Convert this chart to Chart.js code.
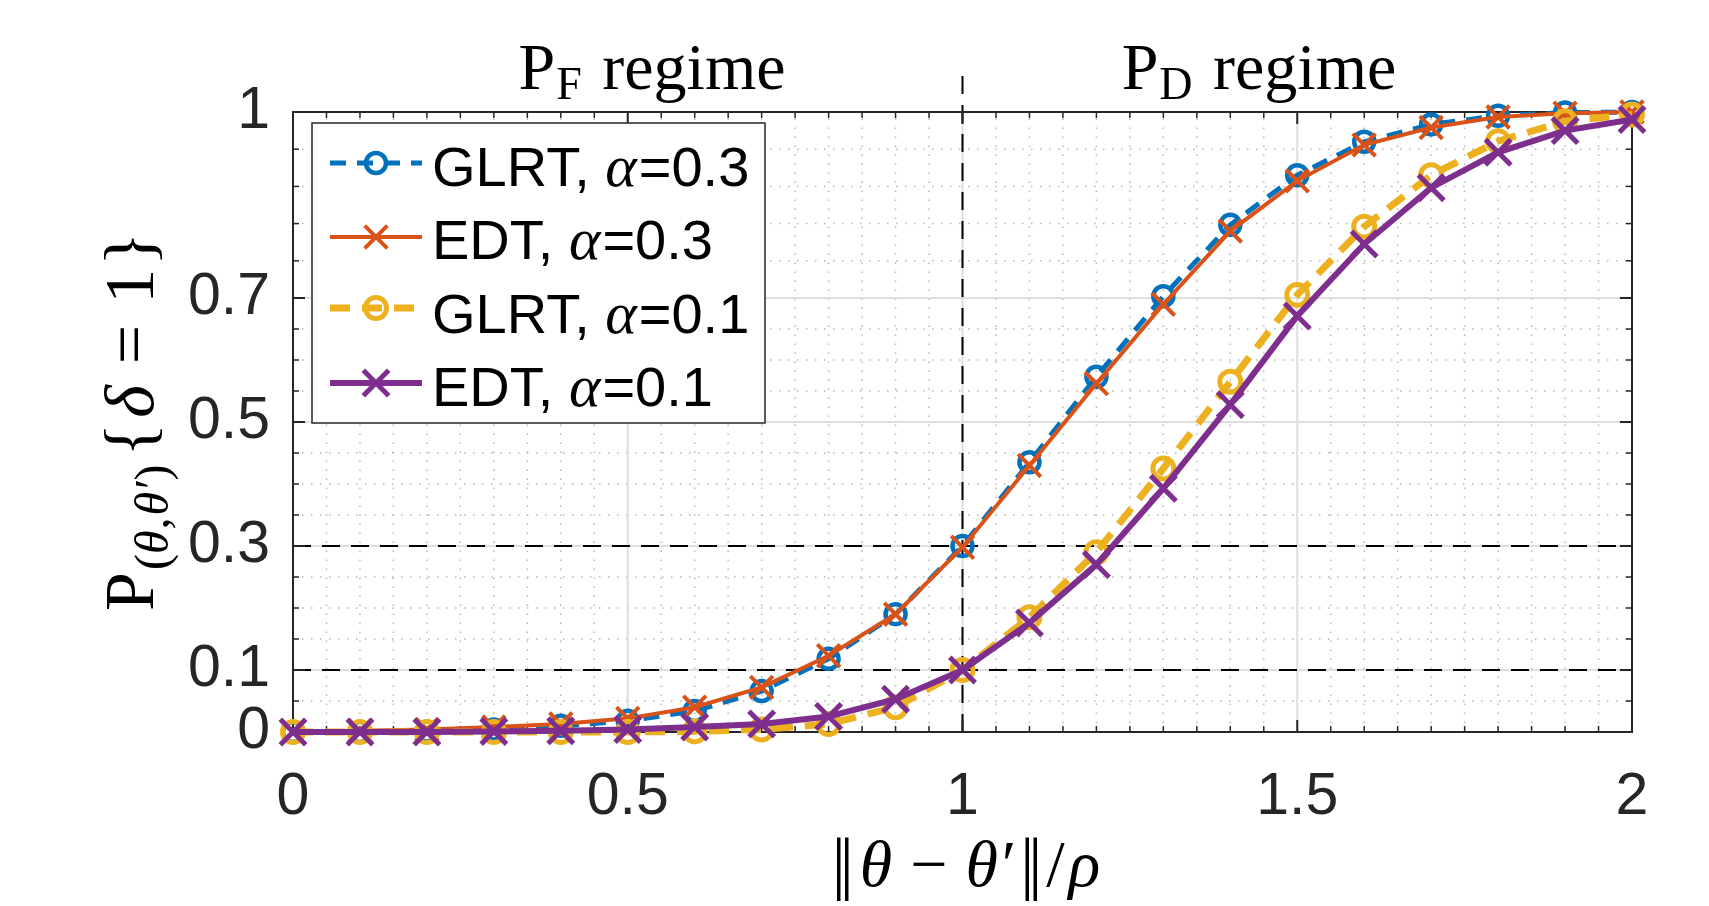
<!DOCTYPE html>
<html>
<head>
<meta charset="utf-8">
<script src="https://cdn.jsdelivr.net/npm/chart.js@4.4.0/dist/chart.umd.min.js"></script>
<style>
  html, body { margin: 0; padding: 0; background: #fff; }
  #wrap { width: 1709px; height: 906px; }
</style>
</head>
<body>
<div id="wrap"><canvas id="myChart" width="1709" height="906"></canvas></div>
<script>
// distance ||theta - theta'|| / rho
const distances = [0, 0.1, 0.2, 0.3, 0.4, 0.5, 0.6, 0.7, 0.8, 0.9, 1.0,
                   1.1, 1.2, 1.3, 1.4, 1.5, 1.6, 1.7, 1.8, 1.9, 2.0];

// P{delta = 1}
const glrt03 = [0, 0, 0.001, 0.004, 0.010, 0.018, 0.034, 0.066, 0.118, 0.190, 0.300,
                0.435, 0.573, 0.703, 0.818, 0.898, 0.952, 0.980, 0.994, 0.999, 1.0];
const edt03  = [0, 0.002, 0.004, 0.008, 0.013, 0.022, 0.040, 0.072, 0.123, 0.190, 0.298,
                0.430, 0.562, 0.690, 0.808, 0.889, 0.947, 0.975, 0.992, 0.998, 1.0];
const glrt01 = [0, 0, 0, 0, 0, 0, 0.001, 0.004, 0.013, 0.040, 0.100,
                0.185, 0.290, 0.425, 0.565, 0.705, 0.815, 0.898, 0.953, 0.985, 0.996];
const edt01  = [0, 0, 0, 0.001, 0.002, 0.004, 0.008, 0.013, 0.025, 0.053, 0.100,
                0.176, 0.270, 0.393, 0.528, 0.671, 0.787, 0.878, 0.935, 0.970, 0.988];

const seriesNames = ['GLRT', 'EDT', 'GLRT', 'EDT'];
const seriesAlpha = ['0.3', '0.3', '0.1', '0.1'];

const xTickVals = [0, 0.5, 1, 1.5, 2];
const yTickVals = [0, 0.1, 0.3, 0.5, 0.7, 1];
const xMinor = [0.05, 0.1, 0.15, 0.2, 0.25, 0.3, 0.35, 0.4, 0.45,
                0.55, 0.6, 0.65, 0.7, 0.75, 0.8, 0.85, 0.9, 0.95,
                1.05, 1.1, 1.15, 1.2, 1.25, 1.3, 1.35, 1.4, 1.45,
                1.55, 1.6, 1.65, 1.7, 1.75, 1.8, 1.85, 1.9, 1.95];
const yMinor = [0.05, 0.15, 0.2, 0.25, 0.35, 0.4, 0.45, 0.55, 0.6, 0.65, 0.76, 0.82, 0.88, 0.94];
const refLevels = [0.1, 0.3];
const refDistance = 1;

const SANS = "'Liberation Sans', Arial, Helvetica, sans-serif";
const SERIF = "'Liberation Serif', 'DejaVu Serif', 'Times New Roman', serif";
const INK = '#262626';

function pts(ys) {
    return distances.map((d, i) => ({ x: d, y: ys[i] }));
}

function drawRuns(ctx, runs, x, y) {
    runs.forEach(r => {
        ctx.font = r.font;
        ctx.fillText(r.t, x, y + (r.dy || 0));
        x += ctx.measureText(r.t).width + (r.gap || 0);
    });
    return x;
}
function runsWidth(ctx, runs) {
    let w = 0;
    runs.forEach(r => { ctx.font = r.font; w += ctx.measureText(r.t).width + (r.gap || 0); });
    return w;
}

const decorations = {
    id: 'decorations',
    beforeDatasetsDraw(chart) {
        const { ctx, chartArea: a, scales: { x, y } } = chart;
        ctx.save();
        const seg = (x1, y1, x2, y2) => { ctx.beginPath(); ctx.moveTo(x1, y1); ctx.lineTo(x2, y2); ctx.stroke(); };

        // minor dotted grid
        ctx.strokeStyle = '#b8b8b8';
        ctx.lineWidth = 1.5;
        ctx.setLineDash([1.5, 7.5]);
        xMinor.forEach(v => { const p = x.getPixelForValue(v); seg(p, a.bottom, p, a.top); });
        yMinor.forEach(v => { const p = y.getPixelForValue(v); seg(a.left, p, a.right, p); });

        // major grid
        ctx.setLineDash([]);
        ctx.strokeStyle = '#dedede';
        ctx.lineWidth = 2;
        xTickVals.forEach(v => { const p = x.getPixelForValue(v); seg(p, a.bottom, p, a.top); });
        yTickVals.forEach(v => { const p = y.getPixelForValue(v); seg(a.left, p, a.right, p); });

        // reference lines
        ctx.strokeStyle = '#000';
        ctx.lineWidth = 2;
        ctx.setLineDash([18, 11]);
        refLevels.forEach(v => { const p = y.getPixelForValue(v); seg(a.left, p, a.right, p); });
        const rx = x.getPixelForValue(refDistance);
        seg(rx, a.bottom, rx, 73);

        // box and ticks
        ctx.setLineDash([]);
        ctx.strokeStyle = INK;
        ctx.lineWidth = 2;
        ctx.strokeRect(a.left, a.top, a.width, a.height);
        xTickVals.forEach(v => {
            const p = x.getPixelForValue(v);
            seg(p, a.bottom, p, a.bottom - 12);
            seg(p, a.top, p, a.top + 12);
        });
        yTickVals.forEach(v => {
            const p = y.getPixelForValue(v);
            seg(a.left, p, a.left + 12, p);
            seg(a.right, p, a.right - 12, p);
        });
        ctx.lineWidth = 1.5;
        xMinor.forEach(v => {
            const p = x.getPixelForValue(v);
            seg(p, a.bottom, p, a.bottom - 6);
            seg(p, a.top, p, a.top + 6);
        });
        yMinor.forEach(v => {
            const p = y.getPixelForValue(v);
            seg(a.left, p, a.left + 6, p);
            seg(a.right, p, a.right - 6, p);
        });
        ctx.restore();
    },
    afterDatasetsDraw(chart) {
        const { ctx } = chart;
        ctx.save();
        ctx.fillStyle = '#000';
        ctx.textBaseline = 'alphabetic';

        // regime labels
        const S = '66px ' + SERIF, s = '46px ' + SERIF;
        const pf = [{ t: 'P', font: S, gap: 1 }, { t: 'F', font: s, dy: 10, gap: 4 }, { t: ' regime', font: S }];
        const pd = [{ t: 'P', font: S, gap: 1 }, { t: 'D', font: s, dy: 10, gap: 4 }, { t: ' regime', font: S }];
        drawRuns(ctx, pf, 652 - runsWidth(ctx, pf) / 2, 89);
        drawRuns(ctx, pd, 1259 - runsWidth(ctx, pd) / 2, 89);

        // x axis title
        const X = '66px ' + SERIF, Xi = 'italic 66px ' + SERIF, Xb = '70px ' + SERIF;
        const xt = [
            { t: '|', font: Xb, gap: -6 }, { t: '|', font: Xb, gap: 6 },
            { t: '\u03b8', font: Xi, gap: 18 },
            { t: '\u2212', font: X, gap: 18 }, { t: '\u03b8\u2032', font: Xi, gap: 8 },
            { t: '|', font: Xb, gap: -6 }, { t: '|', font: Xb, gap: 4 },
            { t: '/', font: X, gap: 4 }, { t: '\u03c1', font: Xi }
        ];
        drawRuns(ctx, xt, 966 - runsWidth(ctx, xt) / 2, 886);

        // y axis title (rotated)
        const Y = '70px ' + SERIF, Yi = 'italic 70px ' + SERIF;
        const y2 = '48px ' + SERIF, y2i = 'italic 48px ' + SERIF;
        const yt = [
            { t: 'P', font: Y, gap: 2 },
            { t: '(', font: y2, dy: 15 }, { t: '\u03b8', font: y2i, dy: 15, gap: 1 },
            { t: ',', font: y2, dy: 15, gap: 2 }, { t: '\u03b8\u2032', font: y2i, dy: 15, gap: 1 },
            { t: ')', font: y2, dy: 15, gap: 8 },
            { t: '{', font: Y, gap: 5 }, { t: '\u03b4', font: Yi, gap: 21 },
            { t: '=', font: Y, gap: 21 }, { t: '1', font: Y, gap: 3 }, { t: '}', font: Y }
        ];
        ctx.save();
        ctx.translate(153, 611);
        ctx.rotate(-Math.PI / 2);
        drawRuns(ctx, yt, 0, 0);
        ctx.restore();

        // legend
        const bx = 312, by = 123, bw = 453, bh = 300;
        ctx.fillStyle = '#fff';
        ctx.fillRect(bx, by, bw, bh);
        ctx.strokeStyle = INK;
        ctx.lineWidth = 1.5;
        ctx.strokeRect(bx, by, bw, bh);
        const rowsLine = [163, 237, 308, 383];
        const rowsText = [186, 259, 333, 406];
        const L = '56px ' + SANS, Li = 'italic 60px ' + SERIF;
        chart.data.datasets.forEach((ds, i) => {
            const ly = rowsLine[i];
            ctx.save();
            ctx.strokeStyle = ds.borderColor;
            ctx.lineWidth = ds.borderWidth;
            ctx.setLineDash(ds.borderDash || []);
            ctx.beginPath(); ctx.moveTo(330, ly); ctx.lineTo(422, ly); ctx.stroke();
            ctx.setLineDash([]);
            ctx.strokeStyle = ds.borderColor;
            ctx.fillStyle = 'rgba(0,0,0,0)';
            ctx.lineWidth = ds.pointBorderWidth;
            Chart.helpers.drawPoint(ctx, {
                pointStyle: ds.pointStyle, radius: ds.pointRadius, rotation: 0,
                borderWidth: ds.pointBorderWidth
            }, 376, ly);
            ctx.restore();
            ctx.fillStyle = '#000';
            drawRuns(ctx, [
                { t: seriesNames[i] + ', ', font: L },
                { t: '\u03b1', font: Li, gap: 2 },
                { t: '=' + seriesAlpha[i], font: L }
            ], 432, rowsText[i]);
        });
        ctx.restore();
    }
};

const ctx = document.getElementById('myChart').getContext('2d');
new Chart(ctx, {
    type: 'scatter',
    data: {
        datasets: [{
            label: 'GLRT, \u03b1=0.3',
            data: pts(glrt03),
            borderColor: '#0072BD',
            borderWidth: 5,
            borderDash: [16, 11],
            pointStyle: 'circle',
            pointRadius: 10,
            pointBorderWidth: 4.5,
            pointBackgroundColor: 'rgba(0,0,0,0)',
            order: 3
        }, {
            label: 'EDT, \u03b1=0.3',
            data: pts(edt03),
            borderColor: '#D95319',
            borderWidth: 4,
            pointStyle: 'crossRot',
            pointRadius: 16,
            pointBorderWidth: 4,
            order: 2
        }, {
            label: 'GLRT, \u03b1=0.1',
            data: pts(glrt01),
            borderColor: '#EDB120',
            borderWidth: 7,
            borderDash: [20, 12],
            pointStyle: 'circle',
            pointRadius: 10.5,
            pointBorderWidth: 5,
            pointBackgroundColor: 'rgba(0,0,0,0)',
            order: 1
        }, {
            label: 'EDT, \u03b1=0.1',
            data: pts(edt01),
            borderColor: '#7E2F8E',
            borderWidth: 6,
            pointStyle: 'crossRot',
            pointRadius: 18,
            pointBorderWidth: 5,
            order: 0
        }].map(ds => Object.assign(ds, {
            showLine: true,
            tension: 0,
            clip: false,
            pointBorderColor: ds.borderColor,
            pointHoverRadius: ds.pointRadius
        }))
    },
    options: {
        responsive: false,
        animation: false,
        events: [],
        layout: { padding: { left: 0, top: 112, right: 77, bottom: 0 } },
        plugins: { legend: { display: false }, tooltip: { enabled: false } },
        scales: {
            x: {
                type: 'linear',
                min: 0,
                max: 2,
                afterBuildTicks: (scale) => { scale.ticks = xTickVals.map(v => ({ value: v })); },
                afterFit: (scale) => { scale.height = 174; },
                grid: { display: false, drawTicks: false },
                border: { display: false },
                ticks: {
                    padding: 30,
                    maxRotation: 0,
                    color: INK,
                    font: { family: SANS, size: 59 },
                    callback: (v) => String(v)
                }
            },
            y: {
                type: 'linear',
                min: 0,
                max: 1,
                afterBuildTicks: (scale) => { scale.ticks = yTickVals.map(v => ({ value: v })); },
                afterFit: (scale) => { scale.width = 293; },
                grid: { display: false, drawTicks: false },
                border: { display: false },
                ticks: {
                    padding: 23,
                    color: INK,
                    font: { family: SANS, size: 59 },
                    callback: (v) => String(v)
                }
            }
        }
    },
    plugins: [decorations]
});
</script>
</body>
</html>
